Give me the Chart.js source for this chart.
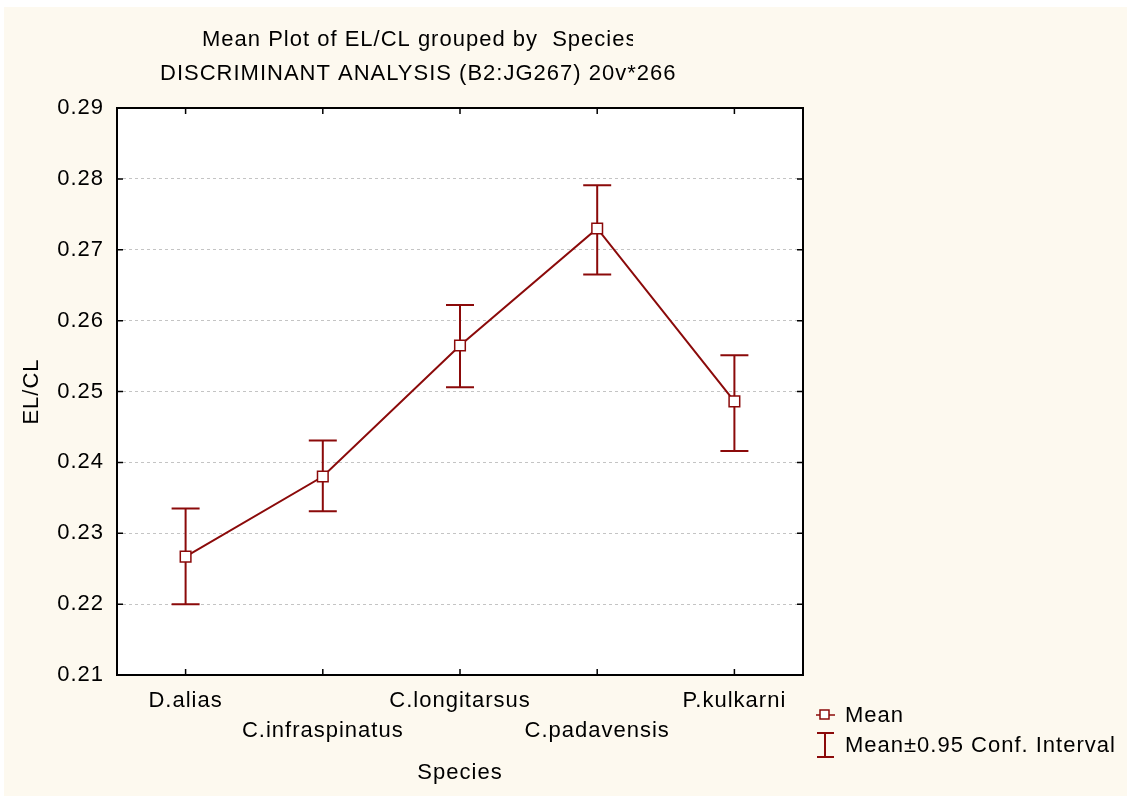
<!DOCTYPE html>
<html>
<head>
<meta charset="utf-8">
<script src="https://cdn.jsdelivr.net/npm/chart.js@4/dist/chart.umd.min.js"></script>
<style>
  html, body { margin: 0; padding: 0; background: #ffffff; }
  #wrap { width: 1127px; height: 796px; position: relative; }
</style>
</head>
<body>
<div id="wrap"><canvas id="plot" width="1127" height="796"></canvas></div>
<script>
var species = ["D.alias", "C.infraspinatus", "C.longitarsus", "C.padavensis", "P.kulkarni"];
var means = [0.2267, 0.2380, 0.2565, 0.2730, 0.2486];
var lower = [0.2200, 0.2331, 0.2506, 0.2665, 0.2416];
var upper = [0.2335, 0.2431, 0.2622, 0.2791, 0.2551];
var yTicks = [0.21, 0.22, 0.23, 0.24, 0.25, 0.26, 0.27, 0.28, 0.29];
var titleLines = ["Mean Plot of EL/CL grouped by  Species", "DISCRIMINANT ANALYSIS (B2:JG267) 20v*266c"];
var legendItems = ["Mean", "Mean\u00b10.95 Conf. Interval"];

var red = "#8b0a0a";
var font = "Liberation Sans, Arial, sans-serif";
var spacing = "1px";

// staggered category labels: every second one goes on the lower row
var xLabels = species.map(function (s, i) { return i % 2 ? ["", s] : [s]; });

function setSpacing(chart) { chart.ctx.letterSpacing = spacing; }

var extras = {
	id: "extras",
	beforeUpdate: setSpacing,
	beforeLayout: setSpacing,
	beforeDraw: function (chart) {
		setSpacing(chart);
		var ctx = chart.ctx, a = chart.chartArea;
		ctx.save();
		ctx.fillStyle = "#fdf9ef";
		ctx.fillRect(4, 7, chart.width - 4, chart.height - 7);
		ctx.fillStyle = "#fff";
		ctx.fillRect(a.left, a.top, a.right - a.left, a.bottom - a.top);
		ctx.restore();
	},
	beforeDatasetsDraw: function (chart) {
		var ctx = chart.ctx, x = chart.scales.x, y = chart.scales.y;
		ctx.save();
		ctx.strokeStyle = red;
		ctx.lineWidth = 2;
		for (var i = 0; i < species.length; i++) {
			var px = x.getPixelForValue(i);
			var pl = y.getPixelForValue(lower[i]);
			var pu = y.getPixelForValue(upper[i]);
			ctx.beginPath();
			ctx.moveTo(px, pl); ctx.lineTo(px, pu);
			ctx.moveTo(px - 14, pl); ctx.lineTo(px + 14, pl);
			ctx.moveTo(px - 14, pu); ctx.lineTo(px + 14, pu);
			ctx.stroke();
		}
		ctx.restore();
	},
	afterDraw: function (chart) {
		var ctx = chart.ctx, a = chart.chartArea, x = chart.scales.x, y = chart.scales.y;
		ctx.save();
		ctx.letterSpacing = spacing;
		// frame of the plot
		ctx.strokeStyle = "#000";
		ctx.lineWidth = 2;
		ctx.strokeRect(a.left, a.top, a.right - a.left, a.bottom - a.top);
		// inside ticks
		ctx.lineWidth = 1.5;
		ctx.beginPath();
		yTicks.forEach(function (v) {
			var py = y.getPixelForValue(v);
			ctx.moveTo(a.left, py); ctx.lineTo(a.left + 6, py);
			ctx.moveTo(a.right, py); ctx.lineTo(a.right - 6, py);
		});
		for (var i = 0; i < species.length; i++) {
			var px = x.getPixelForValue(i);
			ctx.moveTo(px, a.bottom); ctx.lineTo(px, a.bottom - 6);
			ctx.moveTo(px, a.top); ctx.lineTo(px, a.top + 6);
		}
		ctx.stroke();

		// titles, cut off at the right as in the original
		ctx.fillStyle = "#000";
		ctx.font = "22px " + font;
		ctx.textBaseline = "middle";
		ctx.textAlign = "left";
		ctx.save();
		ctx.beginPath(); ctx.rect(0, 0, 633, 60); ctx.clip();
		ctx.fillText(titleLines[0], 202, 40);
		ctx.restore();
		ctx.save();
		ctx.beginPath(); ctx.rect(0, 60, 676, 30); ctx.clip();
		ctx.fillText(titleLines[1], 160, 74);
		ctx.restore();

		// legend
		ctx.strokeStyle = red;
		ctx.lineWidth = 1.5;
		ctx.beginPath();
		ctx.moveTo(816, 715); ctx.lineTo(835, 715);
		ctx.stroke();
		ctx.fillStyle = "#fff";
		ctx.fillRect(820, 710, 9, 9);
		ctx.strokeRect(820, 710, 9, 9);
		ctx.lineWidth = 2;
		ctx.beginPath();
		ctx.moveTo(825, 733); ctx.lineTo(825, 757);
		ctx.moveTo(817, 733); ctx.lineTo(834, 733);
		ctx.moveTo(817, 757); ctx.lineTo(834, 757);
		ctx.stroke();
		ctx.fillStyle = "#000";
		ctx.fillText(legendItems[0], 845, 716);
		ctx.fillText(legendItems[1], 845, 746);
		ctx.restore();
	}
};

var ctx = document.getElementById("plot").getContext("2d");
var chart = new Chart(ctx, {
	type: "line",
	data: {
		labels: xLabels,
		datasets: [{
			label: legendItems[0],
			data: means,
			borderColor: red,
			borderWidth: 2,
			pointStyle: "rect",
			pointRadius: 7.5,
			pointBackgroundColor: "#fff",
			pointBorderColor: red,
			pointBorderWidth: 1.5,
			tension: 0
		}]
	},
	options: {
		animation: false,
		responsive: false,
		layout: { padding: { top: 108, right: 324, bottom: 0, left: 0 } },
		plugins: {
			legend: { display: false },
			tooltip: { enabled: false }
		},
		scales: {
			x: {
				type: "category",
				offset: true,
				grid: { display: false },
				border: { display: false },
				ticks: { color: "#000", font: { size: 22, family: font, lineHeight: 1.36 }, padding: 3, maxRotation: 0, autoSkip: false },
				title: { display: true, text: "Species", color: "#000", font: { size: 22, family: font }, padding: { top: 0, bottom: 10 } },
				afterFit: function (s) { s.height = 121; }
			},
			y: {
				min: 0.21,
				max: 0.29,
				afterBuildTicks: function (s) { s.ticks = yTicks.map(function (v) { return { value: v }; }); },
				grid: {
					color: function (c) { return (c.tick.value <= 0.21 || c.tick.value >= 0.29) ? "rgba(0,0,0,0)" : "#c4c4c4"; },
					drawTicks: false
				},
				border: { display: false, dash: [3, 3] },
				ticks: {
					color: "#000",
					font: { size: 22, family: font },
					padding: 13,
					callback: function (v) { return v.toFixed(2); }
				},
				title: { display: true, text: "EL/CL", color: "#000", font: { size: 22, family: font }, padding: { top: 19, bottom: 0 } },
				afterFit: function (s) { s.width = 117; }
			}
		}
	},
	plugins: [extras]
});
</script>
</body>
</html>
